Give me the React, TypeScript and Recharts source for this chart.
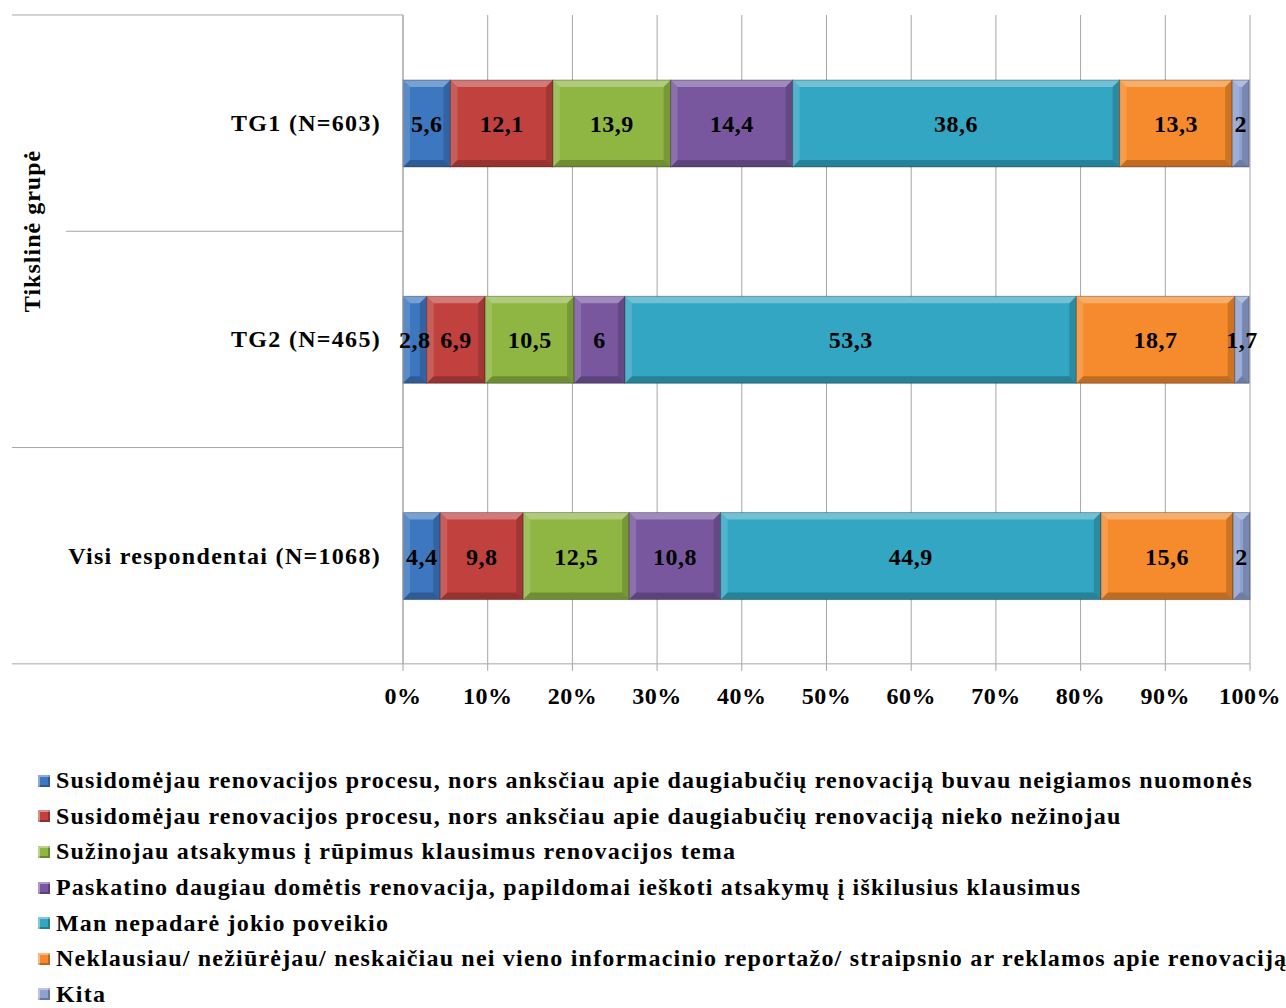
import { BarChart, Bar, XAxis, YAxis, CartesianGrid, Legend, LabelList } from 'recharts';

const categories = ['TG1 (N=603)', 'TG2 (N=465)', 'Visi respondentai (N=1068)'];

const seriesNames = [
  'Susidomėjau renovacijos procesu, nors anksčiau apie daugiabučių renovaciją buvau neigiamos nuomonės',
  'Susidomėjau renovacijos procesu, nors anksčiau apie daugiabučių renovaciją nieko nežinojau',
  'Sužinojau atsakymus į rūpimus klausimus renovacijos tema',
  'Paskatino daugiau domėtis renovacija, papildomai ieškoti atsakymų į iškilusius klausimus',
  'Man nepadarė jokio poveikio',
  'Neklausiau/ nežiūrėjau/ neskaičiau nei vieno informacinio reportažo/ straipsnio ar reklamos apie renovaciją',
  'Kita',
];

const negiamos = [5.6, 2.8, 4.4];
const nezinojau = [12.1, 6.9, 9.8];
const suzinojau = [13.9, 10.5, 12.5];
const paskatino = [14.4, 6, 10.8];
const nepadare = [38.6, 53.3, 44.9];
const neklausiau = [13.3, 18.7, 15.6];
const kita = [2, 1.7, 2];

const xTicks = [0, 10, 20, 30, 40, 50, 60, 70, 80, 90, 100];

const colors = ['#3d77c0', '#c0413e', '#8fb542', '#78579f', '#33a6c3', '#f58b2c', '#8ea1d1'];

const seriesValues = [negiamos, nezinojau, suzinojau, paskatino, nepadare, neklausiau, kita];
const keys = seriesValues.map((_, i) => `s${i}`);

const data = categories.map((name, ci) => {
  const row: Record<string, string | number> = { name };
  seriesValues.forEach((vals, si) => {
    row[keys[si]] = vals[ci];
  });
  return row;
});

const FONT = "'Liberation Serif', 'Times New Roman', serif";
const PLOT_TOP = 15;
const PLOT_BOTTOM = 664;
const PLOT_LEFT = 403;
const PLOT_RIGHT = 1250;
const bandHalf = (PLOT_BOTTOM - PLOT_TOP) / categories.length / 2;

function BevelBar(props: any) {
  const { x, y, width, height, fill } = props;
  if (!width || width <= 0) return null;
  const b = Math.min(7, width / 2, height / 2);
  const r = x + width;
  const btm = y + height;
  return (
    <g>
      <rect x={x} y={y} width={width} height={height} fill={fill} />
      <polygon points={`${x},${y} ${r},${y} ${r - b},${y + b} ${x + b},${y + b}`} fill="#fff" opacity={0.3} />
      <polygon points={`${x},${y} ${x + b},${y + b} ${x + b},${btm - b} ${x},${btm}`} fill="#fff" opacity={0.15} />
      <polygon points={`${x},${btm} ${r},${btm} ${r - b},${btm - b} ${x + b},${btm - b}`} fill="#000" opacity={0.22} />
      <polygon points={`${r},${y} ${r},${btm} ${r - b},${btm - b} ${r - b},${y + b}`} fill="#000" opacity={0.16} />
      <rect x={x} y={y} width={width} height={height} fill="none" stroke="rgba(0,0,0,0.3)" strokeWidth={1} />
    </g>
  );
}

function CategoryTick(props: any) {
  const { x, y, payload, index } = props;
  const topLineStart = index === 1 ? 66 : 12;
  return (
    <g>
      <line x1={topLineStart} x2={PLOT_LEFT} y1={y - bandHalf} y2={y - bandHalf} stroke="#a6a6a6" />
      {index === categories.length - 1 && (
        <line x1={12} x2={PLOT_LEFT} y1={y + bandHalf} y2={y + bandHalf} stroke="#a6a6a6" />
      )}
      <text
        x={x}
        y={y}
        textAnchor="end"
        dominantBaseline="central"
        fontFamily={FONT}
        fontWeight="bold"
        fontSize={24}
        letterSpacing={1.3}
        fill="#000"
      >
        {payload.value}
      </text>
    </g>
  );
}

function LegendList() {
  return (
    <div style={{ fontFamily: FONT, fontWeight: 'bold', fontSize: 24, letterSpacing: 1.2, color: '#000' }}>
      {seriesNames.map((n, i) => (
        <div key={n} style={{ height: 35.6, display: 'flex', alignItems: 'center', whiteSpace: 'nowrap' }}>
          <span
            style={{
              display: 'inline-block',
              width: 12,
              height: 12,
              marginRight: 6,
              background: colors[i],
              boxShadow: 'inset 2px 2px 0 rgba(255,255,255,0.4), inset -2px -2px 0 rgba(0,0,0,0.25)',
            }}
          />
          {n}
        </div>
      ))}
    </div>
  );
}

const fmt = (v: any) => String(v).replace('.', ',');

export default function App() {
  return (
    <div style={{ position: 'absolute', left: 0, top: 0, width: 1286, height: 1008, overflow: 'hidden', background: '#fff' }}>
      <BarChart
        width={1286}
        height={1008}
        data={data}
        layout="vertical"
        barSize={87}
        margin={{ top: PLOT_TOP, right: 1286 - PLOT_RIGHT, left: 0, bottom: 55 }}
      >
        <CartesianGrid horizontal={false} stroke="#a6a6a6" />
        <XAxis
          type="number"
          domain={[0, 100]}
          ticks={xTicks}
          tickFormatter={(v) => `${v}%`}
          height={40}
          tickSize={7}
          tickMargin={16}
          stroke="#a6a6a6"
          tick={{ fill: '#000', fontFamily: FONT, fontWeight: 'bold', fontSize: 24, letterSpacing: 0.5 }}
        />
        <YAxis
          type="category"
          dataKey="name"
          width={PLOT_LEFT}
          tickLine={false}
          tickSize={0}
          tickMargin={22}
          stroke="#a6a6a6"
          tick={(p: any) => <CategoryTick {...p} />}
          label={{
            value: 'Tikslinė grupė',
            content: (lp: any) => (
              <text
                transform="translate(32,231) rotate(-90)"
                textAnchor="middle"
                dominantBaseline="central"
                fontFamily={FONT}
                fontWeight="bold"
                fontSize={24}
                letterSpacing={1}
                fill="#000"
              >
                {lp.value}
              </text>
            ),
          }}
        />
        <Legend
          verticalAlign="bottom"
          align="left"
          layout="horizontal"
          wrapperStyle={{ left: 38, top: 763, width: 1260 }}
          content={() => <LegendList />}
        />
        {keys.map((k, i) => (
          <Bar
            key={k}
            dataKey={k}
            name={seriesNames[i]}
            stackId="a"
            fill={colors[i]}
            shape={(p: any) => <BevelBar {...p} />}
            isAnimationActive={false}
          >
            <LabelList
              dataKey={k}
              position="center"
              formatter={fmt}
              fill="#000"
              fontFamily={FONT}
              fontWeight="bold"
              fontSize={24}
              letterSpacing={0.5}
            />
          </Bar>
        ))}
      </BarChart>
    </div>
  );
}
